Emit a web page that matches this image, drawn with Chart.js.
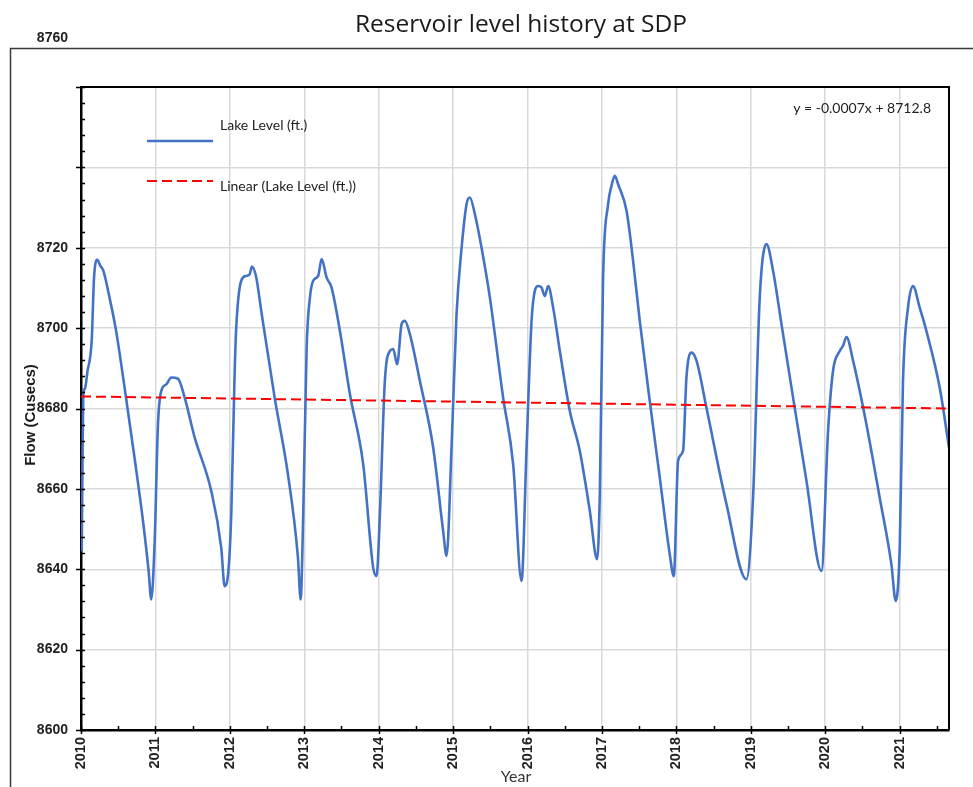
<!DOCTYPE html>
<html>
<head>
<meta charset="utf-8">
<title>Reservoir level history at SDP</title>
<script src="https://cdn.jsdelivr.net/npm/chart.js@4.4.1/dist/chart.umd.min.js"></script>
<style>
  html, body { margin: 0; padding: 0; background: #ffffff; }
  #wrap { position: relative; width: 973px; height: 787px; }
</style>
</head>
<body>
<div id="wrap"><canvas id="chart" width="973" height="787"></canvas></div>
<script>
// Lake level record (decimal year, feet)
const years = [
  2010.010, 2010.018, 2010.030, 2010.054, 2010.085, 2010.144, 2010.175, 2010.219, 2010.260, 2010.300, 2010.390, 2010.470, 2010.591, 2010.725, 2010.833, 2010.909, 2010.944,
  2010.990, 2011.034, 2011.079, 2011.146, 2011.213, 2011.303, 2011.393, 2011.527, 2011.750, 2011.884, 2011.930, 2011.965,
  2012.019, 2012.064, 2012.086, 2012.153, 2012.220, 2012.266, 2012.297, 2012.355, 2012.422, 2012.602, 2012.780, 2012.915, 2012.951,
  2012.986, 2013.032, 2013.076, 2013.120, 2013.187, 2013.233, 2013.300, 2013.367, 2013.479, 2013.613, 2013.792, 2013.926, 2013.972,
  2014.016, 2014.083, 2014.150, 2014.195, 2014.248, 2014.308, 2014.352, 2014.419, 2014.553, 2014.732, 2014.866, 2014.912,
  2014.979, 2015.046, 2015.114, 2015.181, 2015.225, 2015.292, 2015.382, 2015.494, 2015.672, 2015.807, 2015.919,
  2015.987, 2016.054, 2016.098, 2016.142, 2016.188, 2016.232, 2016.277, 2016.344, 2016.434, 2016.568, 2016.702, 2016.837, 2016.935,
  2016.971, 2017.015, 2017.083, 2017.128, 2017.173, 2017.217, 2017.330, 2017.418, 2017.508, 2017.642, 2017.777, 2017.911, 2017.965,
  2018.023, 2018.090, 2018.135, 2018.203, 2018.270, 2018.404, 2018.673, 2018.941,
  2019.030, 2019.120, 2019.210, 2019.299, 2019.412, 2019.568, 2019.748, 2019.949,
  2020.038, 2020.105, 2020.195, 2020.239, 2020.285, 2020.374, 2020.553, 2020.732, 2020.889, 2020.947,
  2021.001, 2021.045, 2021.112, 2021.179, 2021.269, 2021.359, 2021.538, 2021.663
];
const levels = [
  8644.5, 8662.0, 8683.0, 8685.0, 8689.0, 8697.0, 8712.5, 8717.0, 8715.5, 8714.3, 8707.0, 8699.5, 8684.5, 8667.0, 8652.0, 8639.5, 8632.5,
  8647.0, 8676.0, 8684.4, 8686.0, 8687.7, 8687.4, 8682.7, 8672.8, 8659.5, 8645.4, 8635.8, 8637.1,
  8653.7, 8688.6, 8700.2, 8711.8, 8713.0, 8713.4, 8715.3, 8712.6, 8704.3, 8682.7, 8663.7, 8642.9, 8632.5,
  8653.7, 8695.2, 8707.6, 8711.8, 8713.0, 8717.2, 8712.6, 8710.1, 8699.3, 8683.6, 8666.1, 8640.4, 8638.3,
  8653.7, 8686.9, 8694.3, 8694.8, 8691.0, 8701.0, 8701.8, 8698.5, 8686.9, 8670.3, 8649.5, 8643.3,
  8670.3, 8703.4, 8720.0, 8730.9, 8732.5, 8728.4, 8720.0, 8707.6, 8682.7, 8666.1, 8637.1,
  8670.3, 8701.8, 8709.3, 8710.5, 8710.1, 8708.0, 8710.5, 8705.1, 8694.3, 8679.4, 8669.5, 8654.5, 8642.5,
  8658.7, 8712.6, 8730.9, 8735.4, 8737.9, 8735.8, 8729.2, 8716.8, 8701.8, 8681.9, 8662.8, 8643.7, 8638.3,
  8667.0, 8669.5, 8687.7, 8693.9, 8691.9, 8680.2, 8656.2, 8637.5,
  8657.8, 8707.6, 8720.9, 8714.3, 8701.0, 8682.7, 8662.0, 8639.6,
  8674.4, 8689.4, 8694.3, 8695.6, 8697.8, 8691.9, 8676.1, 8657.8, 8641.2, 8632.1,
  8645.4, 8686.9, 8705.1, 8710.5, 8705.1, 8699.3, 8685.2, 8670.3
];

// Linear trend of the lake level, start and end of the record
const trendYears = [2010.000, 2021.663];
const trendLevels = [8683.0, 8680.0];
const trendEquation = 'y = -0.0007x + 8712.8';

// Axis ranges and tick steps
const xRange = [2010, 2021.663];
const yRange = [8600, 8760];
const yStep = 20;
const yMinorStep = 4;
const yHiddenLabels = [8740, 8760];

const titleText = 'Reservoir level history at SDP';
const yTitle = 'Flow (Cusecs)';
const xTitle = 'Year';
const seriesName = 'Lake Level (ft.)';
const trendName = 'Linear (Lake Level (ft.))';

const BLUE = '#4472C4';
const RED = '#FF0000';
const TICK_FONT = 'bold 14px "Liberation Sans", Arial, sans-serif';
const SMALL_FONT = '14px Lato, "Open Sans", sans-serif';

// Frame, titles, legend, equation and Excel-style tick marks
const decorations = {
  id: 'decorations',
  afterDraw(chart) {
    const ctx = chart.ctx;
    const a = chart.chartArea;
    const xs = chart.scales.x, ys = chart.scales.y;
    ctx.save();

    // outer chart frame
    ctx.strokeStyle = '#3a3a3a';
    ctx.lineWidth = 1.5;
    ctx.beginPath();
    ctx.moveTo(10.5, 790);
    ctx.lineTo(10.5, 48.5);
    ctx.lineTo(980, 48.5);
    ctx.stroke();

    // plot box top and right
    ctx.strokeStyle = '#000';
    ctx.lineWidth = 2;
    ctx.beginPath();
    ctx.moveTo(a.left, a.top);
    ctx.lineTo(a.right, a.top);
    ctx.lineTo(a.right, a.bottom);
    ctx.stroke();

    // y ticks: major cross the axis, minor inside
    ctx.lineWidth = 1.5;
    ctx.beginPath();
    for (let v = yRange[0]; v <= yRange[1]; v += yMinorStep) {
      const py = Math.round(ys.getPixelForValue(v)) + 0.5;
      if (v % yStep === 0) { ctx.moveTo(a.left - 5, py); ctx.lineTo(a.left + 4, py); }
      else { ctx.moveTo(a.left, py); ctx.lineTo(a.left + 4, py); }
    }
    // x ticks: years cross the axis, half years inside
    for (let v = xRange[0]; v <= xRange[1]; v += 0.5) {
      const px = Math.round(xs.getPixelForValue(v)) + 0.5;
      if (Number.isInteger(v)) { ctx.moveTo(px, a.bottom - 4); ctx.lineTo(px, a.bottom + 4); }
      else { ctx.moveTo(px, a.bottom - 4); ctx.lineTo(px, a.bottom); }
    }
    ctx.stroke();

    // chart title
    ctx.fillStyle = '#1a1a1a';
    ctx.font = '24.5px "Open Sans", Lato, sans-serif';
    ctx.textAlign = 'center';
    ctx.textBaseline = 'middle';
    ctx.fillText(titleText, 521, 25);

    // top value label above the frame
    ctx.font = TICK_FONT;
    ctx.fillStyle = '#222';
    ctx.textAlign = 'right';
    ctx.fillText(String(yRange[1]), 68, 38);

    // y axis title
    ctx.save();
    ctx.translate(31, 415);
    ctx.rotate(-Math.PI / 2);
    ctx.font = 'bold 15px "Liberation Sans", Arial, sans-serif';
    ctx.textAlign = 'center';
    ctx.fillStyle = '#1a1a1a';
    ctx.fillText(yTitle, 0, 0);
    ctx.restore();

    // x axis title
    ctx.font = '16px Lato, "Open Sans", sans-serif';
    ctx.fillStyle = '#333';
    ctx.textAlign = 'center';
    ctx.fillText(xTitle, 516, 777);

    // legend
    const ds = chart.data.datasets;
    ctx.lineWidth = 2.5;
    ctx.strokeStyle = ds[0].borderColor;
    ctx.beginPath(); ctx.moveTo(147, 141); ctx.lineTo(213, 141); ctx.stroke();
    ctx.lineWidth = 2;
    ctx.strokeStyle = ds[1].borderColor;
    ctx.setLineDash(ds[1].borderDash);
    ctx.beginPath(); ctx.moveTo(147, 181); ctx.lineTo(213, 181); ctx.stroke();
    ctx.setLineDash([]);
    ctx.font = SMALL_FONT;
    ctx.fillStyle = '#222';
    ctx.textAlign = 'left';
    ctx.fillText(ds[0].label, 220, 125);
    ctx.fillText(ds[1].label, 220, 186);

    // trend equation
    ctx.textAlign = 'right';
    ctx.fillText(trendEquation, 931, 108);

    ctx.restore();
  }
};

new Chart(document.getElementById('chart'), {
  type: 'line',
  data: {
    datasets: [
      {
        label: seriesName,
        data: years.map((x, i) => ({ x: x, y: levels[i] })),
        borderColor: BLUE,
        borderWidth: 2.6,
        pointRadius: 0,
        cubicInterpolationMode: 'monotone',
        fill: false,
        order: 2
      },
      {
        label: trendName,
        data: trendYears.map((x, i) => ({ x: x, y: trendLevels[i] })),
        borderColor: RED,
        borderWidth: 2,
        borderDash: [10, 5],
        pointRadius: 0,
        fill: false,
        order: 1
      }
    ]
  },
  options: {
    responsive: false,
    animation: false,
    events: [],
    layout: { padding: { left: 0, top: 87, right: 24, bottom: 0 } },
    plugins: {
      legend: { display: false },
      title: { display: false },
      tooltip: { enabled: false }
    },
    scales: {
      x: {
        type: 'linear',
        min: xRange[0],
        max: xRange[1],
        afterFit: s => { s.height = 57; },
        border: { display: true, color: '#000', width: 2.5 },
        grid: { color: '#d9d9d9', lineWidth: 1.5, drawTicks: false },
        ticks: {
          stepSize: 1,
          includeBounds: false,
          autoSkip: false,
          maxRotation: 90,
          minRotation: 90,
          padding: 7,
          color: '#222',
          font: { family: '"Liberation Sans", Arial, sans-serif', size: 14.5, weight: 'bold' },
          callback: v => Number.isInteger(v) ? String(v) : ''
        }
      },
      y: {
        type: 'linear',
        min: yRange[0],
        max: yRange[1],
        afterFit: s => { s.width = 81; },
        border: { display: true, color: '#000', width: 2.5 },
        grid: { color: '#d9d9d9', lineWidth: 1.5, drawTicks: false },
        ticks: {
          stepSize: yStep,
          includeBounds: false,
          padding: 13,
          color: '#222',
          font: { family: '"Liberation Sans", Arial, sans-serif', size: 14, weight: 'bold' },
          callback: v => yHiddenLabels.includes(v) ? '' : String(v)
        }
      }
    }
  },
  plugins: [decorations]
});
</script>
</body>
</html>
